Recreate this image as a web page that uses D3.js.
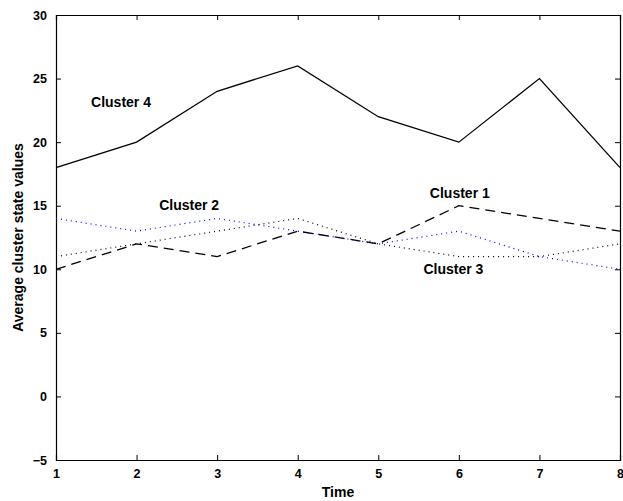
<!DOCTYPE html>
<html>
<head>
<meta charset="utf-8">
<script src="https://cdn.jsdelivr.net/npm/d3@7"></script>
<style>
  body { margin: 0; background: #fff; overflow: hidden; }
  text { font-family: "Liberation Sans", Arial, sans-serif; font-weight: bold; }
</style>
</head>
<body>
<div id="chart"></div>
<script>
// values
const times = [1, 2, 3, 4, 5, 6, 7, 8];
const cluster1 = [10, 12, 11, 13, 12, 15, 14, 13];
const cluster2 = [14, 13, 14, 13, 12, 13, 11, 10];
const cluster3 = [11, 12, 13, 14, 12, 11, 11, 12];
const cluster4 = [18, 20, 24, 26, 22, 20, 25, 18];
const yTicks = [-5, 0, 5, 10, 15, 20, 25, 30];

const W = 623, H = 501;
const margin = { top: 15, right: 3, bottom: 41, left: 56 };
const width = W - margin.left - margin.right;
const height = H - margin.top - margin.bottom;

const svg = d3.select('#chart').append('svg')
    .attr('width', W)
    .attr('height', H);

const g = svg.append('g')
    .attr('transform', `translate(${margin.left},${margin.top})`);

const x = d3.scaleLinear().domain([1, 8]).range([0, width]);
const y = d3.scaleLinear().domain([-5, 30]).range([height, 0]);

const fmt = d => d < 0 ? '\u2212' + Math.abs(d) : String(d);

// axes - ticks point inwards like matlab
g.append('g')
    .attr('transform', `translate(0,${height})`)
    .call(d3.axisBottom(x).tickValues(times).tickSize(-5).tickPadding(9).tickFormat(d3.format('d')));
g.append('g')
    .call(d3.axisTop(x).tickValues(times).tickSize(-5).tickFormat(''));
g.append('g')
    .call(d3.axisLeft(y).tickValues(yTicks).tickSize(-5).tickPadding(9).tickFormat(fmt));
g.append('g')
    .attr('transform', `translate(${width},0)`)
    .call(d3.axisRight(y).tickValues(yTicks).tickSize(-5).tickFormat(''));

g.selectAll('.domain').attr('stroke', '#000').attr('stroke-width', 1.2);
g.selectAll('.tick line').attr('stroke', '#000');
g.selectAll('.tick text').attr('font-size', '12.5px').attr('fill', '#000');

const line = d3.line()
    .x((d, i) => x(times[i]))
    .y(d => y(d));

const series = [
    { vals: cluster4, color: '#000', dash: null, w: 1.3 },
    { vals: cluster1, color: '#000', dash: '10,6', w: 1.3 },
    { vals: cluster3, color: '#000', dash: '1,4', w: 1.2 },
    { vals: cluster2, color: '#0000ff', dash: '1,4', w: 1.2 }
];

series.forEach(s => {
    g.append('path')
        .datum(s.vals)
        .attr('fill', 'none')
        .attr('stroke', s.color)
        .attr('stroke-width', s.w)
        .attr('stroke-dasharray', s.dash)
        .attr('d', line);
});

// cluster labels
const labels = [
    { t: 'Cluster 4', x: 1.435, y: 22.76 },
    { t: 'Cluster 2', x: 2.28, y: 14.66 },
    { t: 'Cluster 1', x: 5.64, y: 15.61 },
    { t: 'Cluster 3', x: 5.56, y: 9.63 }
];
g.selectAll('.lbl').data(labels).enter().append('text')
    .attr('class', 'lbl')
    .attr('x', d => x(d.x))
    .attr('y', d => y(d.y))
    .attr('font-size', '14px')
    .text(d => d.t);

// axis titles
svg.append('text')
    .attr('x', margin.left + width / 2)
    .attr('y', H - 4)
    .attr('text-anchor', 'middle')
    .attr('font-size', '14px')
    .text('Time');

svg.append('text')
    .attr('transform', `translate(23,${margin.top + height / 2}) rotate(-90)`)
    .attr('text-anchor', 'middle')
    .attr('font-size', '14px')
    .text('Average cluster state values');
</script>
</body>
</html>
